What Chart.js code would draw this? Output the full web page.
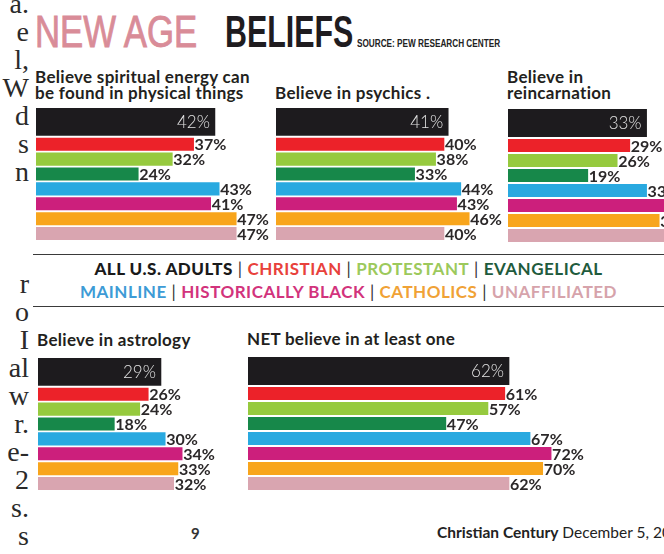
<!DOCTYPE html>
<html><head><meta charset="utf-8">
<script src="https://cdn.jsdelivr.net/npm/chart.js@4.4.0/dist/chart.umd.min.js"></script>
<style>
html,body{margin:0;padding:0;background:#fff;}
#page{position:relative;width:664px;height:554px;overflow:hidden;background:#fff;}
.abs{position:absolute;white-space:nowrap;}
.margin{font-family:"Liberation Serif",serif;font-size:28px;line-height:28px;color:#2a2a2a;text-align:right;width:29px;left:0;}
.ptitle{font-family:Lato,sans-serif;font-weight:700;font-size:17px;line-height:16px;color:#231f20;letter-spacing:0.3px;}
.legend{font-family:Lato,sans-serif;font-weight:700;font-size:17px;line-height:22px;left:33px;width:631px;text-align:center;letter-spacing:0.5px;}
.rule{position:absolute;left:33px;width:640px;height:0;border-top:1.5px solid #3a3a3a;}
.head{font-family:"Liberation Sans",Arial,sans-serif;transform-origin:0 0;}
canvas{position:absolute;}
</style></head><body>
<div id="page"></div>
<script>
// ---- data ----
const groups = ["ALL U.S. ADULTS","CHRISTIAN","PROTESTANT","EVANGELICAL","MAINLINE","HISTORICALLY BLACK","CATHOLICS","UNAFFILIATED"];
const spiritualEnergy = [42,37,32,24,43,41,47,47];
const psychics        = [41,40,38,33,44,43,46,40];
const reincarnation   = [33,29,26,19,33,38,36,38];
const astrology       = [29,26,24,18,30,34,33,32];
const netAtLeastOne   = [62,61,57,47,67,72,70,62];
const panelTitles = [
  ["Believe spiritual energy can","be found in physical things"],
  ["Believe in psychics ."],
  ["Believe in","reincarnation"],
  ["Believe in astrology"],
  ["NET believe in at least one"]
];
const panelValues = [spiritualEnergy, psychics, reincarnation, astrology, netAtLeastOne];

// ---- styles / layout ----
const barColors = ["#1d1b1e","#ec2229","#96ca3e","#17884a","#29a9e0","#cc1f7c","#f8a51c","#d9a5b0"];
const legendColors = ["#1a1a1a","#e8413b","#9cc95c","#1f5b3d","#3d9bd6","#d2337c","#f0a236","#d6a3ab"];
const layout = [
  {left:36,  barTop:108, barBottom:240, pxPer:4.26, width:236, titleTop:69},
  {left:276, barTop:108, barBottom:240, pxPer:4.2,  width:228, titleTop:85},
  {left:508, barTop:109, barBottom:242, pxPer:4.2,  width:230, titleTop:69},
  {left:38,  barTop:358, barBottom:490, pxPer:4.24, width:200, titleTop:332},
  {left:248, barTop:357, barBottom:490, pxPer:4.21, width:380, titleTop:331}
];
const marginLetters = ["a.","e","l,","W","d","s","n","","","","r","o","I","al","w","r.","e-","2","s.","s"];

const page = document.getElementById('page');
function el(tag, cls, css, html){ const e=document.createElement(tag); if(cls)e.className=cls; if(css)e.style.cssText=css; if(html!==undefined)e.innerHTML=html; page.appendChild(e); return e; }

// margin text from neighbouring column
marginLetters.forEach((t,i)=>{ if(t) el('div','abs margin','top:'+(-10+i*28)+'px;', t); });

// header
el('div','abs head','left:35px;top:10px;font-size:44px;line-height:44px;color:#d98c98;-webkit-text-stroke:0.9px #d98c98;transform:scaleX(0.79);','NEW AGE');
el('div','abs head','left:225px;top:10px;font-weight:700;font-size:44px;line-height:44px;color:#1f1c1f;transform:scaleX(0.69);','BELIEFS');
el('div','abs head','left:357px;top:39px;font-weight:700;font-size:10px;line-height:10px;color:#222;transform:scaleX(0.82);','SOURCE: PEW RESEARCH CENTER');

// legend
el('div','rule','top:254px;');
el('div','rule','top:306px;');
function legendLine(items){
  return items.map(i=>'<span style="color:'+legendColors[i]+(i===0?';font-weight:900':'')+'">'+groups[i]+'</span>').join('<span style="color:#333;font-weight:400"> | </span>');
}
el('div','abs legend','top:258px;', legendLine([0,1,2,3]));
el('div','abs legend','top:281px;', legendLine([4,5,6,7]));

// footer
el('div','abs','left:191px;top:524px;font-family:Lato,sans-serif;font-weight:700;font-size:15px;line-height:18px;color:#333;','9');
el('div','abs','left:437px;top:523px;font-family:Lato,sans-serif;font-size:15.5px;line-height:18px;color:#222;','<b>Christian Century</b> December 5, 2018');

// bar value labels
const labelPlugin = {
  id:'barLabels',
  afterDatasetsDraw(chart){
    const ctx = chart.ctx;
    chart.data.datasets.forEach((ds, di)=>{
      const meta = chart.getDatasetMeta(di);
      meta.data.forEach((bar, i)=>{
        const txt = ds.data[i].x + '%';
        ctx.save();
        ctx.textBaseline = 'middle';
        if (di === 0) {
          ctx.font = '300 17px Lato'; ctx.fillStyle = '#e2e2e2'; ctx.textAlign = 'right';
          ctx.fillText(txt, bar.x - 5, bar.y + 1);
        } else {
          ctx.font = '700 16px Lato'; ctx.fillStyle = '#2b2829'; ctx.textAlign = 'left';
          ctx.fillText(txt, bar.x + 1, bar.y + 1);
        }
        ctx.restore();
      });
    });
  }
};

const PAD = 8;
panelValues.forEach((values, p)=>{
  const L = layout[p];
  el('div','abs ptitle','left:'+(L.left-1)+'px;top:'+L.titleTop+'px;', panelTitles[p].join('<br>'));
  const areaH = (L.barBottom - L.barTop) + 2;
  const slot = areaH / 9;
  const cv = el('canvas', null, 'left:'+L.left+'px;top:'+(L.barTop-1-PAD)+'px;width:'+L.width+'px;height:'+(areaH+2*PAD)+'px;');
  cv.width = L.width; cv.height = areaH + 2*PAD;
  const pts = values.map((v,i)=>({x:v, y: i===0 ? 0.5 : i+1}));
  new Chart(cv, {
    type:'bar',
    data:{
      datasets:[
        {label:groups[0], data:[pts[0]], backgroundColor:barColors[0], barThickness:2*slot-2.5, grouped:false},
        {label:'groups', data:pts.slice(1), backgroundColor:barColors.slice(1), barThickness:slot-2.5, grouped:false}
      ]
    },
    options:{
      indexAxis:'y', responsive:false, maintainAspectRatio:false, animation:false,
      layout:{padding:{top:PAD,bottom:PAD,left:0,right:0}},
      scales:{
        x:{type:'linear', min:0, max:L.width/L.pxPer, display:false, offset:false},
        y:{type:'linear', min:-0.5, max:8.5, reverse:true, display:false, offset:false}
      },
      plugins:{legend:{display:false}, tooltip:{enabled:false}}
    },
    plugins:[labelPlugin]
  });
});
</script>
</body></html>
